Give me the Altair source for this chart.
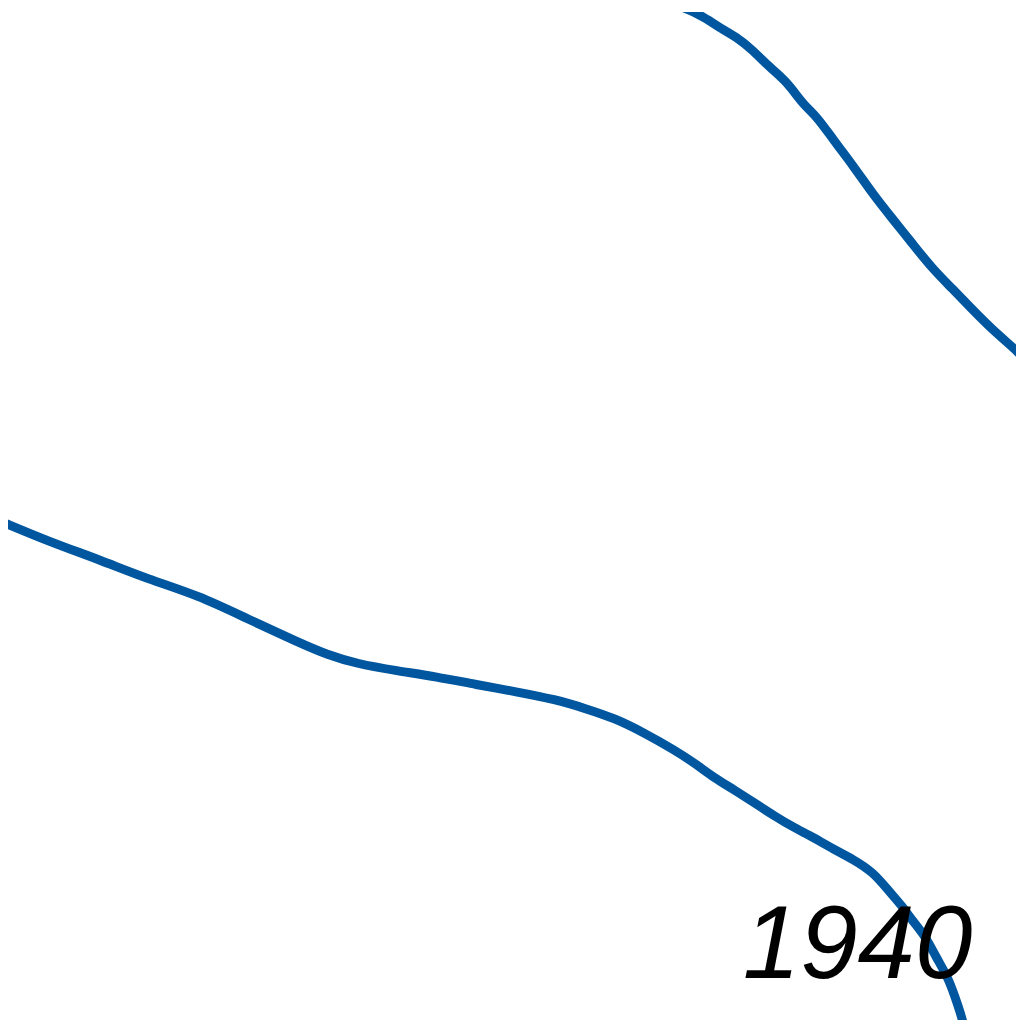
import altair as alt
import pandas as pd

# upper trajectory
upper_x = [66.5, 67.7, 68.8, 71.0, 72.7, 74.2, 75.7, 77.7, 79.3, 81.0, 82.3,
           84.0, 86.0, 88.0, 90.0, 92.0, 94.0, 96.0, 98.0, 100.0, 102.2, 103.0]
upper_y = [102.8, 102.4, 102.1, 101.1, 99.9, 99.1, 97.9, 95.9, 94.6, 92.2, 91.1,
           88.7, 86.1, 83.2, 80.7, 78.2, 75.7, 73.7, 71.6, 69.6, 67.7, 66.9]

# lower trajectory
lower_x = [-0.5, 0, 5, 10, 15, 20, 25, 30, 33, 36, 40, 44, 48, 52, 56, 59, 62,
           65, 68, 70, 72, 74, 76, 78, 80, 82, 84, 86, 88, 89.5, 91, 91.8,
           93.3, 94.3, 95.5, 96.3, 96.8, 97.1]
lower_y = [50.5, 50.3, 48.2, 46.4, 44.4, 42.8, 40.4, 38.1, 36.8, 35.9, 35.2,
           34.6, 33.8, 33.1, 32.3, 31.4, 30.4, 28.9, 27.2, 25.9, 24.4, 23.2,
           21.9, 20.6, 19.4, 18.4, 17.2, 16.2, 14.9, 13.1, 11.4, 10.2, 8.4,
           6.4, 4.4, 2.2, 0.7, -0.4]

# year label
label_text = ["1940"]
label_x = [98.0]
label_y = [4.2]

lines = pd.concat([
    pd.DataFrame({"x": upper_x, "y": upper_y, "series": "upper",
                  "order": range(len(upper_x))}),
    pd.DataFrame({"x": lower_x, "y": lower_y, "series": "lower",
                  "order": range(len(lower_x))}),
])
labels = pd.DataFrame({"x": label_x, "y": label_y, "text": label_text})

x_scale = alt.Scale(domain=[0.8, 102.4], nice=False, zero=False)
y_scale = alt.Scale(domain=[0, 101.6], nice=False, zero=False)

line = (
    alt.Chart(lines)
    .mark_line(color="#0057a0", strokeWidth=9, interpolate="basis", clip=True)
    .encode(
        x=alt.X("x:Q", scale=x_scale, axis=None),
        y=alt.Y("y:Q", scale=y_scale, axis=None),
        detail="series:N",
        order="order:Q",
    )
)

text = (
    alt.Chart(labels)
    .mark_text(
        font="Liberation Sans",
        fontStyle="italic",
        fontSize=104,
        align="right",
        baseline="alphabetic",
        color="black",
    )
    .encode(
        x=alt.X("x:Q", scale=x_scale, axis=None),
        y=alt.Y("y:Q", scale=y_scale, axis=None),
        text="text:N",
    )
)

chart = (
    (line + text)
    .properties(width=1016, height=1016, padding=0, autosize="none", background="white")
    .configure_view(stroke=None)
)

chart.save("out.html", embed_options={"renderer": "svg", "actions": False})
